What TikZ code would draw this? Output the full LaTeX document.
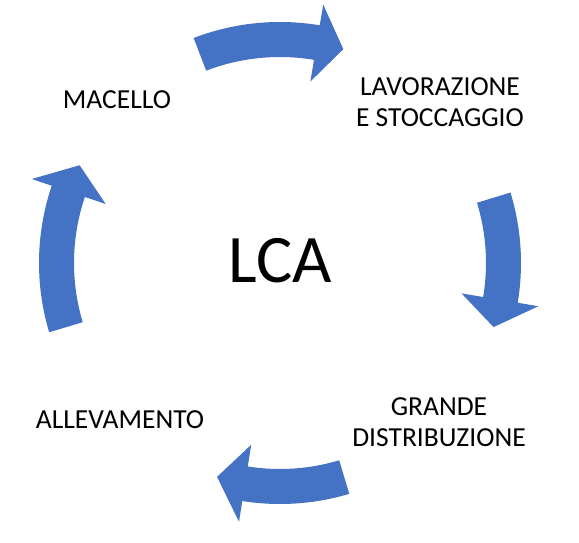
\documentclass[tikz,border=0pt]{standalone}
\usepackage{fontspec}
\setmainfont{Carlito}
\definecolor{arrowblue}{RGB}{68,114,196}

% curved block arrow round (c): start angle, head angle, tip angle
\newcommand{\cyclearrow}[3]{%
\fill[arrowblue] ([shift={(#1:241)}]c) arc[start angle=#1,end angle=#2,radius=241]
  -- ([shift={(#2:262)}]c) -- ([shift={(#3:223)}]c) -- ([shift={(#2:184)}]c)
  -- ([shift={(#2:206)}]c) arc[start angle=#2,end angle=#1,radius=206] -- cycle;}

\begin{document}
\begin{tikzpicture}[x=1pt,y=1pt,
  step label/.style={font=\fontsize{27.5}{31.5}\selectfont,align=center,inner sep=0pt}]
\useasboundingbox (0,0) rectangle (579,542);

\coordinate (c) at (280,279);

\begin{scope}
\cyclearrow{111}{80.5}{73.5}
\cyclearrow{17}{-9.5}{-16.7}
\cyclearrow{-73.3}{-99}{-106.4}
\cyclearrow{196.7}{161.3}{154}
\end{scope}

\node[font=\fontsize{68}{80}\selectfont,anchor=base,inner sep=0pt] (lca) at (280,259) {LCA};

\node[step label,anchor=base] (macello) at (117,433) {MACELLO};
\node[step label] (lavorazione) at (440,440) {LAVORAZIONE\\E STOCCAGGIO};
\node[step label] (distribuzione) at (439,120) {GRANDE\\DISTRIBUZIONE};
\node[step label,anchor=base] (allevamento) at (120,114) {ALLEVAMENTO};

\end{tikzpicture}
\end{document}
